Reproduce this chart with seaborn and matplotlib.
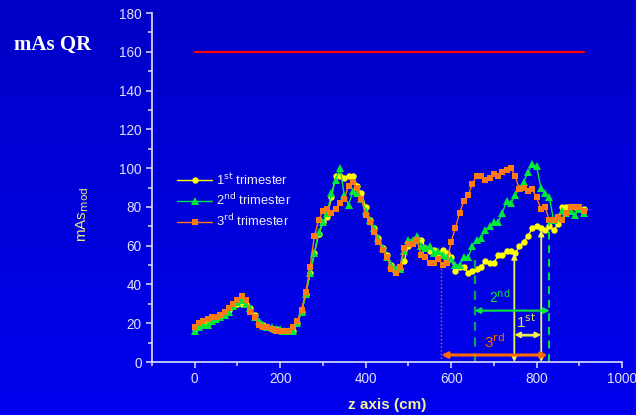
import numpy as np
import pandas as pd
import matplotlib
matplotlib.use('Agg')
import matplotlib.pyplot as plt
from matplotlib.ticker import MultipleLocator
from matplotlib.lines import Line2D
import seaborn as sns

# ─────────────────────────────────────────
# DATA
# ─────────────────────────────────────────
z_cm = np.arange(0, 920, 10)

trim1 = [17, 19, 19, 20, 22, 22, 23, 25, 27, 29,
         30, 30, 30, 28, 24, 20, 19, 18, 17, 17,
         16, 16, 16, 16, 20, 26, 35, 46, 56, 66,
         72, 75, 85, 96, 96, 95, 96, 96, 91, 87,
         80, 73, 69, 64, 59, 55, 50, 48, 48, 52,
         60, 62, 63, 63, 59, 57, 58, 56, 58, 56,
         54, 47, 49, 49, 46, 47, 48, 49, 52, 51,
         51, 55, 55, 57, 57, 56, 60, 62, 65, 69,
         70, 69, 68, 70, 68, 71, 80, 80, 80, 80,
         79, 79]

trim2 = [16, 18, 19, 19, 21, 22, 23, 24, 26, 29,
         31, 32, 30, 28, 23, 21, 19, 18, 18, 17,
         17, 16, 16, 16, 20, 26, 35, 46, 56, 67,
         72, 77, 87, 94, 100, 86, 81, 88, 87, 84,
         78, 73, 69, 64, 59, 54, 50, 48, 48, 57,
         63, 63, 65, 60, 59, 60, 56, 57, 55, 54,
         53, 50, 50, 54, 54, 60, 63, 64, 68, 70,
         72, 72, 77, 83, 82, 86, 90, 93, 98, 102,
         101, 90, 87, 85, 73, 75, 78, 77, 78, 76,
         79, 77]

trim3 = [18, 20, 21, 22, 23, 23, 24, 26, 28, 30,
         32, 34, 32, 26, 23, 19, 18, 18, 17, 16,
         16, 16, 16, 18, 21, 27, 36, 49, 65, 73,
         78, 79, 77, 79, 82, 84, 91, 93, 90, 84,
         76, 72, 67, 62, 58, 54, 48, 46, 49, 59,
         61, 61, 63, 55, 54, 51, 51, 53, 50, 51,
         62, 69, 77, 83, 86, 92, 96, 96, 94, 95,
         97, 96, 98, 99, 100, 96, 89, 90, 88, 89,
         85, 79, 80, 73, 73, 75, 73, 77, 80, 80,
         80, 78]

qr_z = [0, 910]
qr_level = [160, 160]

series_labels = [r'1$^{\rm st}$ trimester', r'2$^{\rm nd}$ trimester', r'3$^{\rm rd}$ trimester']
series_colors = ['#ffff00', '#00e83a', '#ff7a10']
series_markers = ['o', '^', 's']

# range markers (z in cm, mAs)
z_3rd_start, z_2nd_start, z_1st_start, z_1st_end, z_2nd_end = 577, 655, 748, 811, 829
top_3rd, top_2nd_l, top_1st_l, top_1st_r, top_2nd_r = 50, 56, 56, 68, 72

df = pd.DataFrame({'z': np.tile(z_cm, 3),
                   'mAs': trim1 + trim2 + trim3,
                   'series': np.repeat(series_labels, len(z_cm))})

# ─────────────────────────────────────────
# PLOT
# ─────────────────────────────────────────
sns.set_theme(style='ticks')
plt.rcParams['font.family'] = ['Liberation Sans', 'DejaVu Sans']

fig = plt.figure(figsize=(6.36, 4.15), dpi=100)

# blue gradient background
bg = fig.add_axes([0, 0, 1, 1], zorder=-10)
grad = np.linspace(0, 1, 256).reshape(-1, 1)
bg.imshow(grad, aspect='auto', extent=[0, 1, 0, 1],
          cmap=matplotlib.colors.LinearSegmentedColormap.from_list('bg', ['#0000c6', '#0000ee']))
bg.axis('off')

ax = fig.add_axes([152/636, 1 - 362/415, 470/636, 349/415])
ax.patch.set_alpha(0)

for lab, col, mk in zip(series_labels, series_colors, series_markers):
    sub = df[df['series'] == lab]
    sns.lineplot(data=sub, x='z', y='mAs', ax=ax, color=col, marker=mk,
                 markersize=4.6 if mk != '^' else 5.6, markeredgewidth=0,
                 linewidth=1.0, legend=False)

ax.plot(qr_z, qr_level, color='#ff0000', lw=1.6)

# vertical guide lines
ax.plot([z_3rd_start, z_3rd_start], [0, top_3rd], color='#ff6a00', lw=1, ls=':')
ax.plot([z_2nd_start, z_2nd_start], [0, top_2nd_l], color='#00a860', lw=1.6, ls=(0, (4, 3)))
ax.plot([z_2nd_end, z_2nd_end], [0, top_2nd_r], color='#00e83a', lw=1.4, ls=(0, (4, 3)))

arr = dict(arrowstyle='<|-|>', mutation_scale=8, shrinkA=0, shrinkB=0)
ax.annotate('', xy=(z_1st_start, 0), xytext=(z_1st_start, top_1st_l),
            arrowprops=dict(arr, color='#f0f050', lw=1.3))
ax.annotate('', xy=(z_1st_end, 0), xytext=(z_1st_end, top_1st_r),
            arrowprops=dict(arr, color='#f0f050', lw=1.3))
ax.annotate('', xy=(z_2nd_start, 26.5), xytext=(z_2nd_end + 2, 26.5),
            arrowprops=dict(arr, color='#00e83a', lw=1.5))
ax.annotate('', xy=(z_1st_start, 14), xytext=(z_1st_end, 14),
            arrowprops=dict(arr, color='#f0f050', lw=1.5))
ax.plot([z_1st_start + 12, z_1st_end - 12], [14, 14], color='#909090', lw=2)
ax.annotate('', xy=(z_3rd_start, 3.6), xytext=(z_2nd_end - 3, 3.6),
            arrowprops=dict(arr, color='#ff6a00', lw=2.2))

ax.text(714, 33.5, r'2$^{\rm nd}$', color='#00e83a', fontsize=10, ha='center', va='center')
ax.text(776, 21, r'1$^{\rm st}$', color='#e8e860', fontsize=11, ha='center', va='center')
ax.text(702, 10.5, r'3$^{\rm rd}$', color='#ff6a00', fontsize=11, ha='center', va='center')

# axes styling
ax.set_xlim(-100, 1000)
ax.set_ylim(0, 180)
ax.xaxis.set_major_locator(MultipleLocator(200))
ax.xaxis.set_minor_locator(MultipleLocator(100))
ax.yaxis.set_major_locator(MultipleLocator(20))
ax.yaxis.set_minor_locator(MultipleLocator(10))
ax.set_xticks([0, 200, 400, 600, 800, 1000])
for s in ['top', 'right']:
    ax.spines[s].set_visible(False)
for s in ['left', 'bottom']:
    ax.spines[s].set_color('#e0e0ff')
    ax.spines[s].set_linewidth(1.2)
ax.tick_params(which='both', direction='out', colors='#e0e0ff', labelsize=9.8)
ax.tick_params(which='major', length=4, width=1.1)
ax.tick_params(which='minor', length=3, width=1.1)
ax.set_xlabel('z axis (cm)', color='#f0f0a0', fontsize=11, fontweight='bold', labelpad=8)
ax.set_ylabel(r'mAs$_{\rm mod}$', color='#e8e890', fontsize=11)
ax.yaxis.set_label_coords(-0.13, 0.424)

handles = [Line2D([], [], color=c, marker=m, markersize=4.6 if m != '^' else 5.6,
                  markeredgewidth=0, lw=1.0) for c, m in zip(series_colors, series_markers)]
leg = ax.legend(handles, series_labels, loc='upper left', bbox_to_anchor=(0.053, 0.545),
                frameon=False, fontsize=9.4, handlelength=2.7, labelspacing=0.38,
                handletextpad=0.3, borderaxespad=0, borderpad=0)
for t in leg.get_texts():
    t.set_color('#f0f0ff')

fig.text(14/636, 1 - 45/415, 'mAs QR', color='white', fontsize=15, fontweight='bold',
         family='Liberation Serif', va='center', ha='left')

plt.savefig('out.png', dpi=100)
plt.close()
